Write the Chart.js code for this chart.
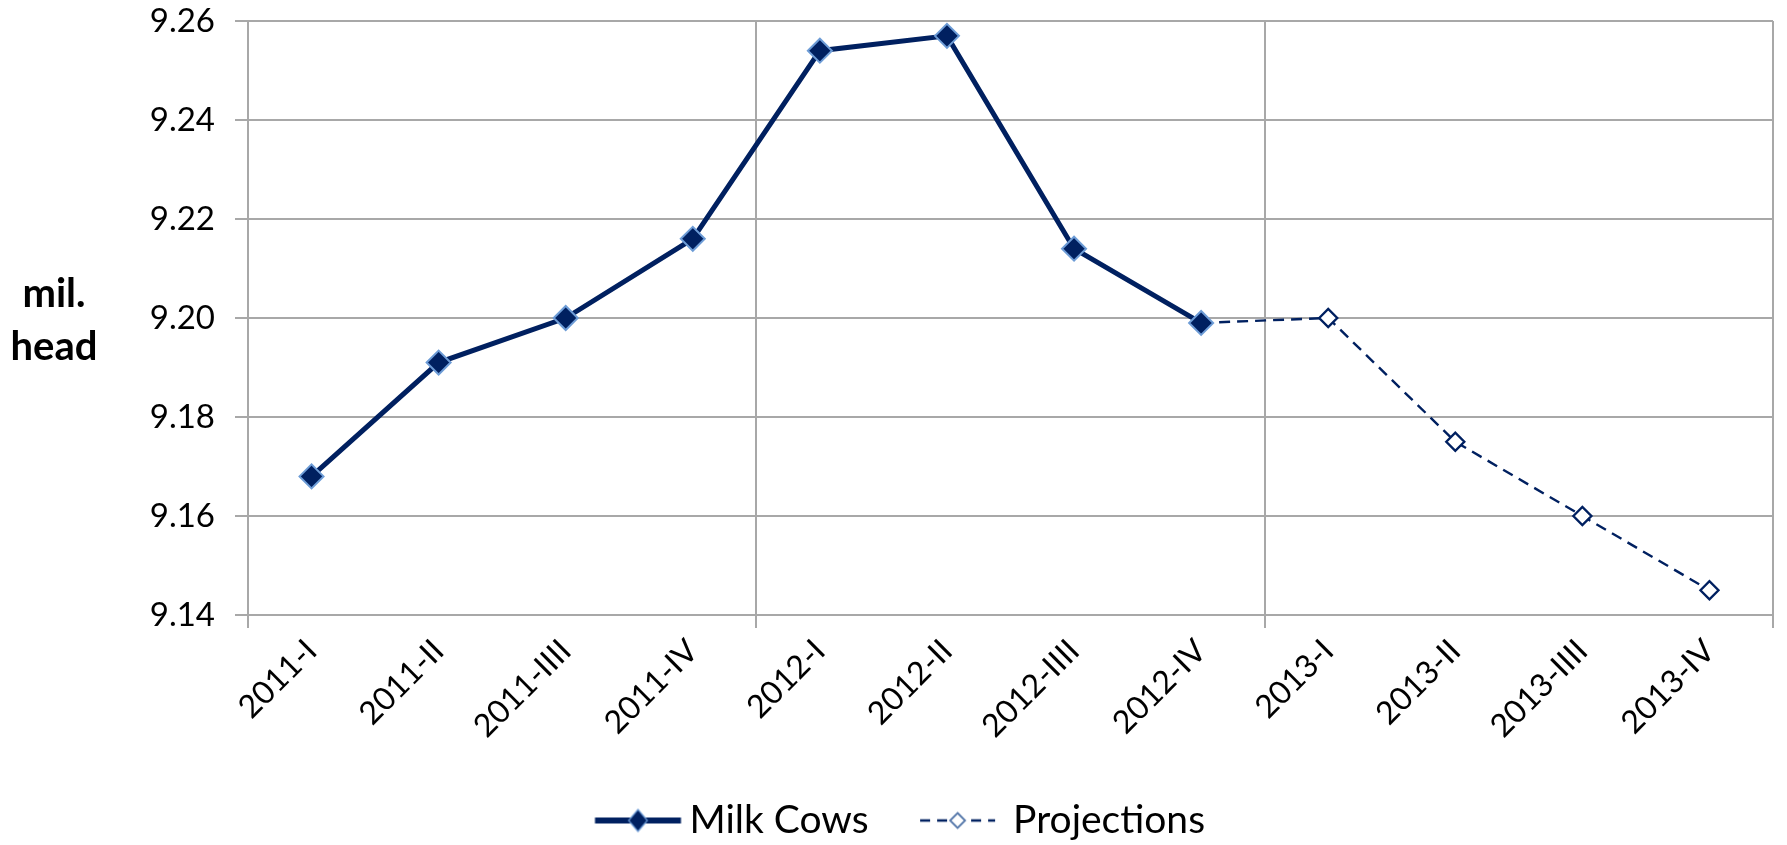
<!DOCTYPE html>
<html>
<head>
<meta charset="utf-8">
<script src="https://cdn.jsdelivr.net/npm/chart.js@4.4.1/dist/chart.umd.min.js"></script>
<style>
html,body{margin:0;padding:0;background:#ffffff;}
#wrap{position:relative;width:1787px;height:845px;}
</style>
</head>
<body>
<div id="wrap"><canvas id="c" width="1787" height="845"></canvas></div>
<script>
// ---- data ----
const categories = ['2011-I','2011-II','2011-IIII','2011-IV','2012-I','2012-II','2012-IIII','2012-IV','2013-I','2013-II','2013-IIII','2013-IV'];
const milkCows   = [9.168, 9.191, 9.200, 9.216, 9.254, 9.257, 9.214, 9.199, null, null, null, null];
const projections = [null, null, null, null, null, null, null, 9.199, 9.200, 9.175, 9.160, 9.145];
const yMin = 9.14, yMax = 9.26, yStep = 0.02;
const seriesNames = ['Milk Cows', 'Projections'];
const yAxisTitle = ['mil.', 'head'];

// ---- styles ----
const NAVY = '#002060';
const LIGHT = '#6d9cd6';
const GRID = '#a8a8a8';
const FONT = 'Lato, "Open Sans", sans-serif';
const LEGEND_FS = 39;
const BOXW = 75;

function legendImage(kind){
  const W = 102, H = 30;
  const cv = document.createElement('canvas');
  cv.width = W; cv.height = H;
  const g = cv.getContext('2d');
  const y = H/2;
  const off = (W - BOXW)/2;
  g.strokeStyle = NAVY;
  if (kind === 0){
    const x0 = off + 0, x1 = off + 86, cx = (x0 + x1)/2;
    g.lineWidth = 6;
    g.beginPath(); g.moveTo(x0, y); g.lineTo(x1, y); g.stroke();
    const r = 11;
    g.beginPath(); g.moveTo(cx, y-r); g.lineTo(cx+r*0.85, y); g.lineTo(cx, y+r); g.lineTo(cx-r*0.85, y); g.closePath();
    g.fillStyle = NAVY; g.fill();
    g.lineWidth = 1.2; g.strokeStyle = LIGHT; g.stroke();
  } else {
    const x0 = off + 1.5, x1 = off + 76.5, cx = (x0 + x1)/2;
    g.lineWidth = 2.5;
    g.setLineDash([10,7]);
    g.beginPath(); g.moveTo(x0, y); g.lineTo(x1, y); g.stroke();
    g.setLineDash([]);
    const r = 7.5;
    g.beginPath(); g.moveTo(cx, y-r); g.lineTo(cx+r, y); g.lineTo(cx, y+r); g.lineTo(cx-r, y); g.closePath();
    g.fillStyle = '#fff'; g.fill(); g.lineWidth = 1.8; g.strokeStyle = '#5577aa'; g.stroke();
  }
  return cv;
}

const projRadius = projections.map((v,i) => (v === null || i === 7) ? 0 : 9);

const yTitlePlugin = {
  id: 'yTitle',
  afterDraw(chart){
    const ctx = chart.ctx;
    ctx.save();
    ctx.font = 'bold 40px ' + FONT;
    ctx.fillStyle = '#000';
    ctx.textAlign = 'center';
    ctx.textBaseline = 'alphabetic';
    ctx.fillText(yAxisTitle[0], 54, 307);
    ctx.fillText(yAxisTitle[1], 54, 360);
    ctx.restore();
  }
};

new Chart(document.getElementById('c'), {
  type: 'line',
  data: {
    labels: categories,
    datasets: [
      {
        label: seriesNames[0],
        data: milkCows,
        order: 0,
        borderColor: NAVY,
        borderWidth: 5,
        pointStyle: 'rectRot',
        pointRadius: 12,
        pointHoverRadius: 12,
        pointBackgroundColor: NAVY,
        pointBorderColor: LIGHT,
        pointBorderWidth: 2,
        tension: 0,
        fill: false
      },
      {
        label: seriesNames[1],
        data: projections,
        order: 1,
        borderColor: NAVY,
        borderWidth: 2.4,
        borderDash: [11,7],
        pointStyle: 'rectRot',
        pointRadius: projRadius,
        pointHoverRadius: projRadius,
        pointBackgroundColor: '#ffffff',
        pointBorderColor: NAVY,
        pointBorderWidth: 2.4,
        tension: 0,
        fill: false
      }
    ]
  },
  options: {
    responsive: false,
    devicePixelRatio: 1,
    animation: false,
    layout: { padding: { left: 20, right: 7, top: 21, bottom: -5 } },
    plugins: {
      tooltip: { enabled: false },
      legend: {
        position: 'bottom',
        labels: {
          usePointStyle: true,
          pointStyleWidth: BOXW,
          padding: 50,
          color: '#000',
          font: { family: FONT, size: LEGEND_FS },
          generateLabels(chart){
            return chart.data.datasets.map((ds, i) => ({
              text: ds.label,
              pointStyle: legendImage(i),
              fillStyle: NAVY,
              strokeStyle: NAVY,
              lineWidth: 0,
              hidden: false,
              datasetIndex: i,
              fontColor: '#000'
            }));
          }
        }
      }
    },
    scales: {
      x: {
        offset: true,
        afterFit(scale){ scale.height = 136; },
        grid: {
          offset: true,
          lineWidth: 2,
          tickLength: 13,
          color: (ctx) => (ctx.index === undefined || ctx.index % 4 === 0) ? GRID : 'rgba(0,0,0,0)'
        },
        border: { color: GRID, width: 2 },
        ticks: {
          minRotation: 45,
          maxRotation: 45,
          autoSkip: false,
          padding: 4,
          color: '#000',
          font: { family: FONT, size: 32 }
        }
      },
      y: {
        min: yMin,
        max: yMax,
        afterFit(scale){ scale.width = 228; scale.paddingTop = 0; scale.paddingBottom = 0; },
        grid: { color: GRID, lineWidth: 2, tickLength: 13 },
        border: { color: GRID, width: 2 },
        ticks: {
          stepSize: yStep,
          padding: 20,
          color: '#000',
          font: { family: FONT, size: 33 },
          callback: (v) => Number(v).toFixed(2)
        }
      }
    }
  },
  plugins: [yTitlePlugin]
});
</script>
</body>
</html>
